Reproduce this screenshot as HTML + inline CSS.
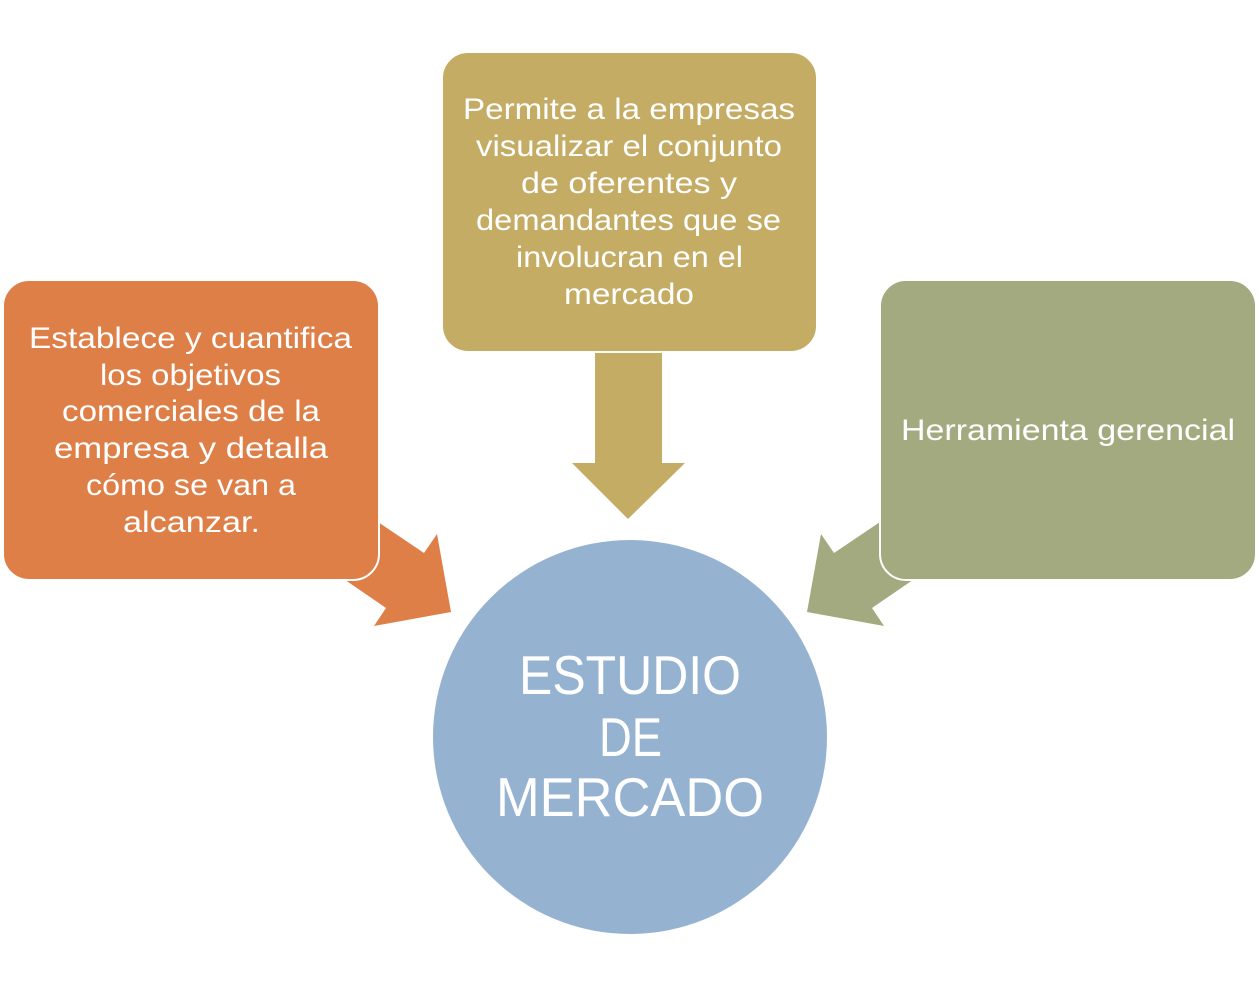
<!DOCTYPE html>
<html><head><meta charset="utf-8"><style>html,body{margin:0;padding:0;background:#fff;}svg{display:block}</style></head>
<body>
<svg width="1259" height="986" viewBox="0 0 1259 986" xmlns="http://www.w3.org/2000/svg" font-family="'Liberation Sans', sans-serif" fill="#fff">
<!-- arrows -->
<polygon points="595,352 662,352 662,463 685,463 628,519 572,463 595,463" fill="#C4AC64"/>
<polygon points="341,497 424,553 437,534 451,612 374,626 386,608 303,551" fill="#DE7F48"/>
<polygon points="917,497 834,553 821,534 807,612 884,626 872,608 955,551" fill="#A4AA7F"/>
<!-- boxes -->
<rect x="3" y="280" width="376" height="300" rx="26" fill="#DE7F48" stroke="#fff" stroke-width="2"/>
<rect x="442" y="52" width="375" height="300" rx="26" fill="#C4AC64" stroke="#fff" stroke-width="2"/>
<rect x="880" y="280" width="376" height="300" rx="26" fill="#A4AA7F" stroke="#fff" stroke-width="2"/>
<circle cx="630" cy="737" r="197" fill="#95B3D1"/>
<g font-size="30" fill="#fff">
<text x="29" y="348" textLength="323" lengthAdjust="spacingAndGlyphs">Establece y cuantifica</text>
<text x="100" y="385" textLength="181" lengthAdjust="spacingAndGlyphs">los objetivos</text>
<text x="62" y="421" textLength="258" lengthAdjust="spacingAndGlyphs">comerciales de la</text>
<text x="54" y="458" textLength="274" lengthAdjust="spacingAndGlyphs">empresa y detalla</text>
<text x="86" y="495" textLength="210" lengthAdjust="spacingAndGlyphs">cómo se van a</text>
<text x="123" y="532" textLength="137" lengthAdjust="spacingAndGlyphs">alcanzar.</text>
<text x="463" y="119" textLength="332" lengthAdjust="spacingAndGlyphs">Permite a la empresas</text>
<text x="476" y="156" textLength="306" lengthAdjust="spacingAndGlyphs">visualizar el conjunto</text>
<text x="521" y="193" textLength="216" lengthAdjust="spacingAndGlyphs">de oferentes y</text>
<text x="476" y="230" textLength="305" lengthAdjust="spacingAndGlyphs">demandantes que se</text>
<text x="516" y="267" textLength="227" lengthAdjust="spacingAndGlyphs">involucran en el</text>
<text x="564" y="304" textLength="130" lengthAdjust="spacingAndGlyphs">mercado</text>
<text x="901" y="440" textLength="334" lengthAdjust="spacingAndGlyphs">Herramienta gerencial</text>
</g>
<g font-size="55" fill="#fff">
<text x="519" y="694" textLength="222" lengthAdjust="spacingAndGlyphs">ESTUDIO</text>
<text x="599" y="756" textLength="63" lengthAdjust="spacingAndGlyphs">DE</text>
<text x="496" y="816" textLength="268" lengthAdjust="spacingAndGlyphs">MERCADO</text>
</g>
</svg>
</body></html>
